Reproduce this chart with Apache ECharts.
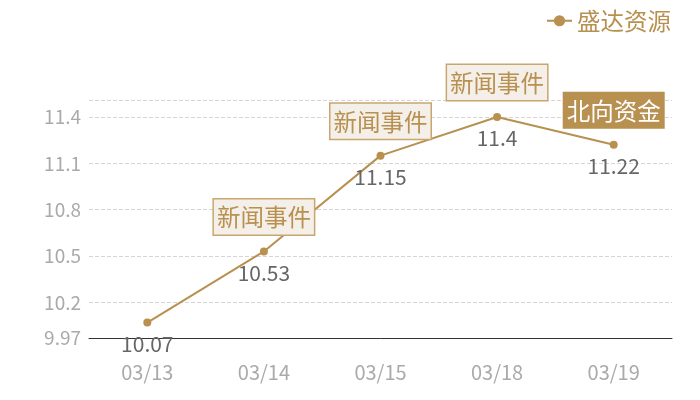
<!DOCTYPE html>
<html><head><meta charset="utf-8">
<script src="https://cdn.jsdelivr.net/npm/echarts@6/dist/echarts.min.js"></script>
<style>html,body{margin:0;padding:0;background:#fff}#c{width:700px;height:400px}</style>
</head><body><div id="c"></div>
<script>
const categories = ['03/13','03/14','03/15','03/18','03/19'];
const seriesName = '盛达资源';
const values = [10.07, 10.53, 11.15, 11.4, 11.22];
const newsIdx = [1, 2, 3];
const newsText = '新闻事件';
const northIdx = [4];
const northText = '北向资金';
const yMin = 9.97, yMax = 11.51;

const gold = '#b8904f';
const font = '"Noto Sans CJK SC","Noto Sans",sans-serif';
const markData = [];
newsIdx.forEach(i => markData.push({
  coord: [i, values[i]], value: newsText,
  label: {backgroundColor: '#f4efe9', borderColor: '#c9a66f', borderWidth: 1.5, color: '#b8904f'}
}));
northIdx.forEach(i => markData.push({
  coord: [i, values[i]], value: northText,
  label: {backgroundColor: gold, borderColor: gold, borderWidth: 1, color: '#fff'}
}));

const chart = echarts.init(document.getElementById('c'));
chart.setOption({
  animation: false,
  textStyle: {fontFamily: font},
  legend: {
    right: 24, top: 4, itemWidth: 25, itemHeight: 14, itemGap: 8,
    textStyle: {color: gold, fontSize: 23.5, fontFamily: font},
    data: [seriesName]
  },
  grid: {left: 89, right: 28, top: 100, bottom: 62},
  xAxis: {
    type: 'category', data: categories, boundaryGap: true,
    axisLine: {lineStyle: {color: '#333', width: 1}},
    axisTick: {show: false},
    axisLabel: {color: '#aaa', fontSize: 20, margin: 24, fontFamily: font}
  },
  yAxis: {
    type: 'value', min: yMin, max: yMax, splitNumber: 5,
    axisLine: {show: false}, axisTick: {show: false},
    axisLabel: {color: '#aaa', fontSize: 19, margin: 8, showMaxLabel: false, fontFamily: font},
    splitLine: {lineStyle: {color: '#d5d5d5', type: 'dashed'}}
  },
  series: [{
    name: seriesName, type: 'line', data: values,
    symbol: 'circle', symbolSize: 8,
    itemStyle: {color: gold},
    lineStyle: {color: gold, width: 2},
    label: {show: true, position: 'bottom', distance: 7, color: '#666', fontSize: 21, fontFamily: font},
    markPoint: {
      symbol: 'circle', symbolSize: 0,
      label: {
        show: true, position: 'top', distance: 17, fontSize: 23.5, lineHeight: 24,
        padding: [6, 3, 5, 3], fontFamily: font,
        formatter: p => p.value
      },
      data: markData
    }
  }]
});
</script></body></html>
